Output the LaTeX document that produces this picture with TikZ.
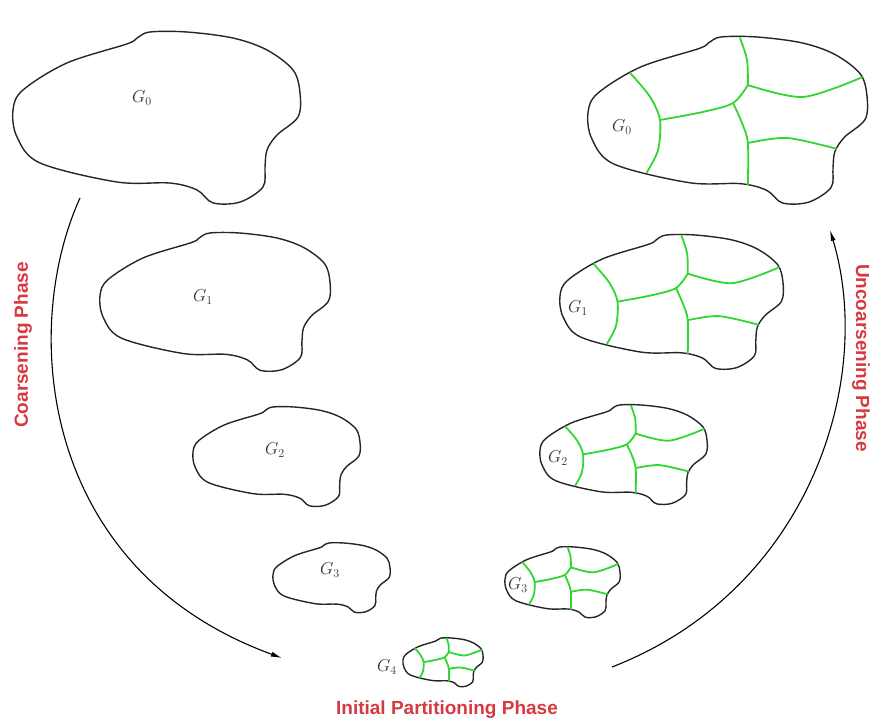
\documentclass[tikz,border=0pt]{standalone}
\usepackage{fontspec}
\usepackage{amsmath}
\usepackage{tikz}
\usetikzlibrary{arrows.meta}
\newfontfamily\phasefont{Liberation Sans}
\definecolor{phasered}{RGB}{214,58,64}
\definecolor{partgreen}{RGB}{50,214,50}

\begin{document}
\begin{tikzpicture}[x=1pt, y=-1pt, every node/.style={font=\fontsize{17}{20}\selectfont}, >={Latex[length=11pt, width=5pt]},
	outline/.style={line width=1.4pt, black!85},
	part/.style={line width=1.8pt, partgreen, line cap=round},
	phase/.style={text=phasered, font=\phasefont\bfseries\fontsize{19}{22}\selectfont}]
	\useasboundingbox (0,0) rectangle (873,722);
	\foreach \x/\y/\w/\h in {13/32/287/173, 100/233/230/139, 193/407/167/100, 273/543/117/70, 588/37/279/168, 560/235/223/135, 540/405/167/100, 505/547/115/71, 403/638/80/49} {
		\begin{scope}[shift={(\x,\y)}, xscale=\w, yscale=\h]
			\draw[outline] plot[smooth cycle, tension=0.55] coordinates {(0.397,0.069) (0.432,0.035) (0.477,0.0) (0.606,0.0) (0.767,0.035) (0.885,0.104) (0.976,0.22) (1.0,0.353) (0.993,0.491) (0.92,0.595) (0.885,0.682) (0.878,0.78) (0.871,0.896) (0.791,0.983) (0.697,0.988) (0.641,0.913) (0.547,0.873) (0.362,0.867) (0.094,0.757) (0.014,0.607) (0.0,0.451) (0.035,0.335) (0.188,0.179)};
		\end{scope}
	}
	\foreach \x/\y/\w/\h in {588/37/279/168, 560/235/223/135, 540/405/167/100, 505/547/115/71, 403/638/80/49} {
		\begin{scope}[shift={(\x,\y)}, xscale=\w, yscale=\h]
			\draw[part] plot[smooth] coordinates {(0.151,0.214) (0.222,0.355) (0.258,0.494) (0.251,0.673) (0.211,0.805)};
			\draw[part] plot[smooth] coordinates {(0.258,0.494) (0.412,0.446) (0.52,0.393) (0.573,0.286)};
			\draw[part] plot[smooth] coordinates {(0.545,0.006) (0.57,0.137) (0.573,0.286)};
			\draw[part] plot[smooth] coordinates {(0.573,0.286) (0.771,0.357) (0.982,0.24)};
			\draw[part] plot[smooth] coordinates {(0.52,0.393) (0.552,0.512) (0.573,0.631) (0.573,0.878)};
			\draw[part] plot[smooth] coordinates {(0.573,0.631) (0.713,0.601) (0.89,0.665)};
		\end{scope}
	}
	\foreach \n/\x/\y in {0/142/98, 1/203/297, 2/275/450, 3/330/570} {
		\node[black!80] (gl\n) at (\x,\y) {$G_\n$};
	}
	\foreach \n/\x/\y in {0/622/127, 1/578/308, 2/558/458, 3/518/585, 4/387/667} {
		\node[black!80] (gr\n) at (\x,\y) {$G_\n$};
	}
	\coordinate (coarsestart) at (80,198);
	\coordinate (coarseend) at (282,658);
	\coordinate (uncoarsestart) at (612,667);
	\coordinate (uncoarseend) at (830,230);
	\draw[->, line width=1.1pt] (coarsestart) .. controls (20,330) and (40,570) .. (coarseend);
	\draw[->, line width=1.1pt] (uncoarsestart) .. controls (810,590) and (875,380) .. (uncoarseend);
	\node[phase, rotate=90] (coarsening) at (23,345) {Coarsening Phase};
	\node[phase, rotate=-90] (uncoarsening) at (861,358) {Uncoarsening Phase};
	\node[phase] (initial) at (447,710) {Initial Partitioning Phase};
\end{tikzpicture}
\end{document}
